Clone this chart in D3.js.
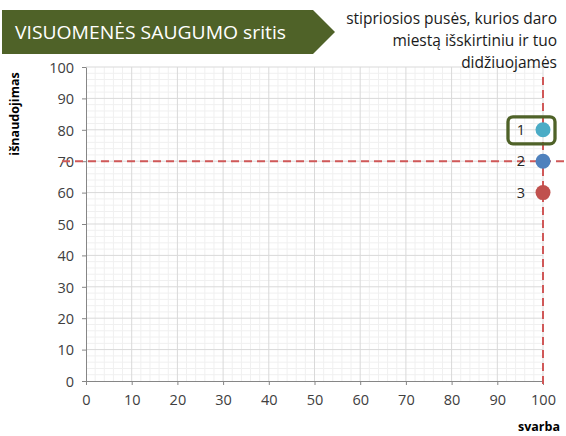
<!DOCTYPE html>
<html>
<head>
<meta charset="utf-8">
<script src="https://cdn.jsdelivr.net/npm/d3@7"></script>
<style>
    body { margin: 0; background: #fff; }
    svg { display: block; }
    .axis-title { font-family: "Open Sans", "Noto Sans", sans-serif; font-size: 12.5px; font-weight: bold; fill: #000; }
</style>
</head>
<body>
<div class="chart"></div>
<script>
// chart values
const titleText = "VISUOMENĖS SAUGUMO sritis";
const noteLines = ["stipriosios pusės, kurios daro", "miestą išskirtiniu ir tuo", "didžiuojamės"];
const xTickValues = [0, 10, 20, 30, 40, 50, 60, 70, 80, 90, 100];
const yTickValues = [0, 10, 20, 30, 40, 50, 60, 70, 80, 90, 100];
const pointLabels = ["1", "2", "3"];
const svarba = [100, 100, 100];
const isnaudojimas = [80, 70, 60];
const pointColors = ["#4bacc6", "#4f81bd", "#c0504d"];
const refX = 100;
const refY = 70;
const highlighted = "1";

const width = 566;
const height = 436;
const tickFont = "Open Sans, Noto Sans, sans-serif";

const svg = d3.select('.chart')
    .append('svg')
    .attr('width', width)
    .attr('height', height);

const x = d3.scaleLinear().domain([0, 100]).range([86, 543]);
const y = d3.scaleLinear().domain([0, 100]).range([381, 67]);

// minor grid every 2, major every 10
const minor = d3.range(0, 101, 2).filter(v => v % 10 != 0);

svg.selectAll(".minor-v")
    .data(minor)
    .enter()
    .append("line")
    .attr("x1", d => x(d)).attr("x2", d => x(d))
    .attr("y1", y(100)).attr("y2", y(0))
    .attr("stroke", "#f0f0f0");

svg.selectAll(".minor-h")
    .data(minor)
    .enter()
    .append("line")
    .attr("y1", d => y(d)).attr("y2", d => y(d))
    .attr("x1", x(0)).attr("x2", x(100))
    .attr("stroke", "#f0f0f0");

svg.selectAll(".major-v")
    .data(xTickValues.slice(1))
    .enter()
    .append("line")
    .attr("x1", d => x(d)).attr("x2", d => x(d))
    .attr("y1", y(100)).attr("y2", y(0))
    .attr("stroke", "#d9d9d9");

svg.selectAll(".major-h")
    .data(yTickValues.slice(1))
    .enter()
    .append("line")
    .attr("y1", d => y(d)).attr("y2", d => y(d))
    .attr("x1", x(0)).attr("x2", x(100))
    .attr("stroke", "#d9d9d9");

// axes
const xAxis = svg.append("g")
    .attr("transform", "translate(0," + y(0) + ")")
    .call(d3.axisBottom(x).tickValues(xTickValues).tickSize(4).tickPadding(10).tickSizeOuter(0));
const yAxis = svg.append("g")
    .attr("transform", "translate(" + x(0) + ",0)")
    .call(d3.axisLeft(y).tickValues(yTickValues).tickSize(4).tickPadding(8).tickSizeOuter(0));

[xAxis, yAxis].forEach(g => {
    g.attr("font-family", tickFont).attr("font-size", 14.5);
    g.select(".domain").attr("stroke", "#868686");
    g.selectAll(".tick line").attr("stroke", "#868686");
    g.selectAll(".tick text").attr("fill", "#404040");
});
yAxis.selectAll(".tick text").attr("dy", "0.36em");

// reference lines
svg.append("line")
    .attr("x1", x(0) - 24).attr("x2", width)
    .attr("y1", y(refY)).attr("y2", y(refY))
    .attr("stroke", "#d05858")
    .attr("stroke-width", 2)
    .attr("stroke-dasharray", "8,5");

svg.append("line")
    .attr("x1", x(refX)).attr("x2", x(refX))
    .attr("y1", y(100) + 10).attr("y2", y(0) + 4)
    .attr("stroke", "#d05858")
    .attr("stroke-width", 2)
    .attr("stroke-dasharray", "8,5");

// points
const pts = pointLabels.map((p, i) => ({ label: p, sv: svarba[i], is: isnaudojimas[i], color: pointColors[i] }));

svg.selectAll(".pt")
    .data(pts)
    .enter()
    .append("circle")
    .attr("cx", d => x(d.sv))
    .attr("cy", d => y(d.is))
    .attr("r", 7.5)
    .attr("fill", d => d.color);

svg.selectAll(".pt-label")
    .data(pts)
    .enter()
    .append("text")
    .attr("x", d => x(d.sv) - 22)
    .attr("y", d => y(d.is))
    .attr("dy", "0.36em")
    .attr("text-anchor", "middle")
    .attr("font-family", tickFont)
    .attr("font-size", 14.5)
    .attr("fill", "#262626")
    .text(d => d.label);

// highlight box round point 1
const hp = pts.find(p => p.label == highlighted);
svg.append("rect")
    .attr("x", x(hp.sv) - 35)
    .attr("y", y(hp.is) - 13)
    .attr("width", 47)
    .attr("height", 27)
    .attr("rx", 5)
    .attr("fill", "none")
    .attr("stroke", "#4f6228")
    .attr("stroke-width", 3.3);

// axis titles
svg.append("text")
    .attr("class", "axis-title")
    .attr("transform", "translate(19,114) rotate(-90)")
    .attr("text-anchor", "middle")
    .text("išnaudojimas");

svg.append("text")
    .attr("class", "axis-title")
    .attr("x", 560)
    .attr("y", 431)
    .attr("text-anchor", "end")
    .text("svarba");

// title banner
svg.append("path")
    .attr("d", "M2,10 L313,10 L335,32 L313,54 L2,54 Z")
    .attr("fill", "#4f6228");

svg.append("text")
    .attr("x", 15)
    .attr("y", 39)
    .attr("font-family", "Open Sans, Noto Sans, sans-serif")
    .attr("font-size", "18.5px")
    .attr("fill", "#fff")
    .attr("textLength", 271)
    .attr("lengthAdjust", "spacingAndGlyphs")
    .text(titleText);

svg.selectAll(".note")
    .data(noteLines)
    .enter()
    .append("text")
    .attr("x", 557)
    .attr("y", (d, i) => 24 + i * 22)
    .attr("text-anchor", "end")
    .attr("font-family", "Open Sans, Noto Sans, sans-serif")
    .attr("font-size", "15.5px")
    .attr("fill", "#1a1a1a")
    .text(d => d);
</script>
</body>
</html>
